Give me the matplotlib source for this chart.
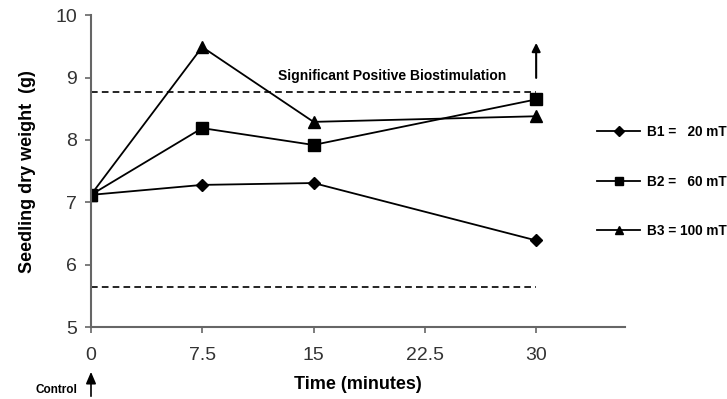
import matplotlib
matplotlib.use("Agg")
import matplotlib.pyplot as plt

time_min = [0, 7.5, 15, 30]
b1_20mT = [7.12, 7.28, 7.31, 6.39]
b2_60mT = [7.12, 8.19, 7.92, 8.65]
b3_100mT = [7.12, 9.49, 8.29, 8.38]
series_labels = ["B1 =   20 mT", "B2 =   60 mT", "B3 = 100 mT"]
upper_limit = 8.77
lower_limit = 5.64
x_ticks = [0, 7.5, 15, 22.5, 30]
x_tick_labels = ["0", "7.5", "15", "22.5", "30"]
y_ticks = [5, 6, 7, 8, 9, 10]

plt.rcParams["font.family"] = ["Liberation Sans", "DejaVu Sans"]

fig = plt.figure(figsize=(7.27, 3.99), dpi=100)
ax = fig.add_axes([0.125, 0.18, 0.735, 0.782])

line_kw = dict(color="black", lw=1.3)
h1, = ax.plot(time_min, b1_20mT, marker="D", ms=6, **line_kw)
h2, = ax.plot(time_min, b2_60mT, marker="s", ms=8, **line_kw)
h3, = ax.plot(time_min, b3_100mT, marker="^", ms=8, **line_kw)

ax.plot([0, 30], [upper_limit, upper_limit], color="black", lw=1.2, ls=(0, (4, 2.5)))
ax.plot([0, 30], [lower_limit, lower_limit], color="black", lw=1.2, ls=(0, (4, 2.5)))

ax.set_xlim(0, 36)
ax.set_ylim(5, 10)
ax.set_xticks(x_ticks)
ax.set_xticklabels(x_tick_labels)
ax.set_yticks(y_ticks)

for side in ["top", "right"]:
    ax.spines[side].set_visible(False)
for side in ["left", "bottom"]:
    ax.spines[side].set_color("#666666")
    ax.spines[side].set_linewidth(1.5)
ax.tick_params(axis="both", colors="#666666", length=4, width=1.2, labelsize=14,
               labelcolor="#333333", pad=10)
ax.tick_params(axis="y", pad=6)

ax.set_xlabel("Time (minutes)", fontsize=13, fontweight="bold", labelpad=9)
ax.set_ylabel("Seedling dry weight  (g)", fontsize=13, fontweight="bold", labelpad=14)

ax.text(12.6, 8.92, "Significant Positive Biostimulation", fontsize=10, fontweight="bold",
        va="bottom", ha="left")
ax.annotate("", xy=(30, 9.6), xytext=(30, 8.95),
            arrowprops=dict(arrowstyle="-|>,head_width=0.25,head_length=0.5", color="black", lw=1.5))

# control arrow below the axis
fig.patches.append(matplotlib.patches.FancyArrowPatch(
    (91 / 727, 0.0), (91 / 727, 0.075), transform=fig.transFigure,
    arrowstyle="-|>,head_width=3,head_length=7", color="black", lw=1.2))
fig.text(35 / 727, 1 - 390 / 399, "Control", fontsize=8.5, fontweight="bold",
         va="center", ha="left")

fig.legend([h1, h2, h3], series_labels, loc="center left", bbox_to_anchor=(0.821, 0.545),
           frameon=False, handlelength=3.2, labelspacing=2.6, handletextpad=0.5,
           borderaxespad=0, borderpad=0,
           prop={"weight": "bold", "size": 9.8}, markerscale=0.8)

fig.savefig("out.png", dpi=100)
